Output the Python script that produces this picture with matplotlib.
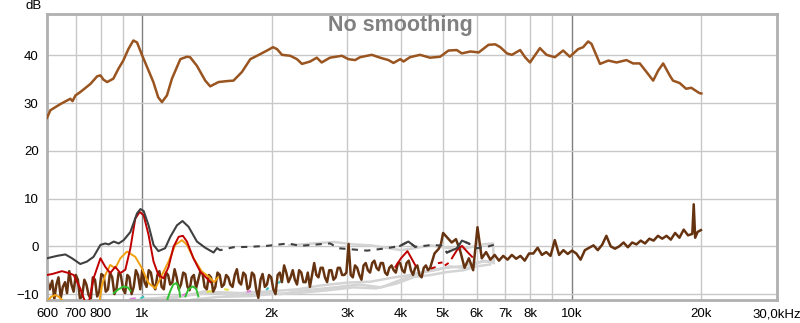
import numpy as np
import matplotlib
matplotlib.use('Agg')
import matplotlib.pyplot as plt

plt.rcParams['font.family'] = ['Liberation Sans', 'DejaVu Sans']

nan = np.nan

# fundamental (brown-orange)
fund_f = [600, 611, 645, 667, 680, 688, 699, 717, 757, 785, 799, 812, 828, 856, 880, 903, 928, 953, 972, 1000,
          1034, 1061, 1089, 1111, 1141, 1172, 1226, 1270, 1292, 1340, 1401, 1439, 1504, 1574, 1630, 1705, 1784,
          1849, 1951, 2014, 2058, 2114, 2209, 2290, 2353, 2458, 2547, 2614, 2733, 2913, 3017, 3127, 3212, 3420,
          3577, 3740, 3842, 3984, 4054, 4196, 4428, 4673, 4932, 5160, 5394, 5540, 5800, 6066, 6393, 6630, 6810,
          7058, 7246, 7574, 7776, 7985, 8420, 8724, 9122, 9537, 9883, 10336, 10616, 10901, 11100, 11620, 12150,
          12700, 13390, 13870, 14380, 14910, 15450, 15870, 16300, 16880, 17180, 17800, 18430, 18950, 19780, 20000]
fund_db = [26.9, 28.5, 29.8, 30.5, 30.9, 30.4, 31.6, 32.3, 34.0, 35.6, 35.8, 34.9, 34.4, 35.1, 37.2, 38.9, 41.3,
           43.1, 42.7, 39.9, 36.8, 34.4, 31.2, 30.2, 31.6, 35.1, 39.2, 39.7, 39.6, 37.8, 34.7, 33.5, 34.4, 34.6,
           34.7, 36.5, 39.2, 39.9, 41.0, 41.7, 41.3, 40.1, 39.9, 39.2, 38.2, 38.7, 39.5, 38.5, 39.5, 39.9, 39.2,
           39.0, 39.6, 40.1, 39.5, 39.0, 38.4, 39.2, 38.7, 39.6, 40.1, 39.5, 39.7, 41.0, 41.1, 40.4, 40.8, 40.6,
           42.2, 42.3, 41.7, 40.4, 40.1, 41.1, 39.6, 38.5, 41.5, 40.1, 39.6, 41.0, 39.7, 41.3, 41.7, 42.9, 42.4,
           38.2, 38.9, 38.5, 39.0, 38.3, 38.3, 36.5, 34.7, 36.8, 38.3, 35.8, 34.7, 34.2, 33.0, 33.2, 32.1, 32.0]

# THD (dark gray), solid part then broken part
thd_f = [600, 633, 662, 686, 717, 743, 770, 799, 820, 835, 858, 881, 905, 938, 972, 990, 1007, 1034, 1062, 1090,
         1130, 1162, 1204, 1240, 1281, 1340, 1401, 1465, 1491]
thd_db = [-2.5, -2.0, -1.7, -2.5, -3.7, -3.2, -2.2, 0.3, 0.6, 0.4, 1.0, 0.6, 1.3, 3.0, 6.9, 7.8, 7.4, 4.4, 0.3,
          -1.0, -0.4, 2.0, 4.4, 5.3, 4.1, 1.0, -0.3, -1.3, -0.4]
thd2_f = [1491, 1518, 1628, 1783, 1950, 2187, 2330, 2637, 2737, 2861, 3333, 3706, 3981, 4160, 4316, 4760, 4982,
          5116, 5399, 5546, 5747, 6010, 6343, 6574]
thd2_db = [-0.4, -0.8, -0.2, -0.1, 0.1, 0.6, 0.1, 0.5, 0.6, -0.4, -0.9, -0.4, 0.1, 1.0, -0.1, 0.3, 0.1, -1.3,
           -0.4, 1.2, 0.6, -0.4, -0.1, 0.3]

# H2 (red)
h2_f = [600, 617, 650, 674, 692, 717, 735, 752, 770, 799, 820, 842, 865, 889, 913, 938, 963, 986, 1007, 1034,
        1062, 1090, 1120, 1151, 1182, 1215, 1243, 1270, 1315, 1364, 1400, 1440, nan,
        3880, 4000, 4140, 4230, 4320, nan, 4720, 4790, nan, 4900, 4970, nan, 5080, 5140, nan,
        5254, 5398, 5546, 5698, 5855]
h2_db = [-6.0, -5.8, -5.2, -5.6, -6.0, -8.8, -11.5, -11.5, -6.7, -2.5, -4.3, -5.6, -4.3, -5.6, -4.9, -0.4, 5.8,
         7.2, 6.5, 2.4, -3.2, -6.0, -6.7, -4.3, -0.1, 2.0, 2.2, 1.0, -2.5, -5.3, -6.3, -7.5, nan,
         -4.3, -2.5, -1.0, -2.5, -4.0, nan, -4.6, -4.4, nan, -3.5, -3.4, nan, -3.9, -3.6, nan,
         -2.5, -0.8, 0.1, -1.1, -2.2]

# H3 (orange)
h3_f = [600, 615, 628, 640, 655, nan, 795, 806, 820, 842, 865, 889, 921, 963, 998, 1034, 1072, 1111, 1151, 1193,
        1237, 1270, 1316, 1376, 1426, 1470, 1500]
h3_db = [-11.5, -10.5, -10.2, -10.6, -11.5, nan, -11.5, -8.0, -6.0, -3.9, -4.6, -2.5, -1.1, -2.2, -4.6, -7.7,
         -8.8, -6.0, -3.2, 0.3, 1.3, 0.3, -2.5, -5.3, -6.3, -7.5, -6.5]

# H4 (green)
h4_f = [858, 880, 905, 925, 938, nan, 1140, 1160, 1180, 1200, 1215, 1225, nan, 1260, 1280, 1310, 1335, 1350]
h4_db = [-9.8, -9.0, -8.4, -8.6, -9.3, nan, -11.5, -9.5, -8.0, -7.7, -8.5, -10.5, nan, -10.5, -9.0, -8.4, -8.9, -10.5]

# higher harmonics (light gray)
lg1_f = [950, 1100, 1300, 1500, 1700, 2000, 2300, 2600, 3000, 3400, 3800, 4200, 4600, 5000, 5500, 6000, 6500]
lg1_db = [-11.3, -10.8, -10.2, -9.6, -9.8, -9.4, -9.0, -8.2, -7.6, -7.4, -6.6, -6.0, -5.2, -4.6, -4.2, -3.4, -3.0]
lg2_f = [1000, 1200, 1400, 1600, 1800, 2100, 2400, 2800, 3200, 3600, 4000, 4400, 4800, 5200, 5700, 6200, 6550]
lg2_db = [-11.0, -10.8, -9.4, -10.2, -9.6, -10.0, -9.2, -8.6, -8.0, -8.6, -7.0, -5.6, -5.0, -4.2, -4.6, -3.0, -3.4]
lg3_f = [1300, 1500, 1800, 2000, 2300, 2700, 3100, 3500, 3900, 4300, 4700, 5100, 5600, 6000, 6450]
lg3_db = [-11.2, -10.6, -10.4, -10.0, -9.8, -9.2, -8.6, -8.8, -7.8, -6.4, -6.0, -5.4, -5.0, -4.2, -3.8]
lgu_f = [2200, 2500, 2800, 3100, 3400, 3700, 4000, 4300, 4700, 5000, 5400, 5800, 6200, 6550, 6580]
lgu_db = [0.2, 0.6, 0.9, 0.4, 0.2, -0.3, -0.8, -0.4, 0.2, -0.2, -0.6, -0.2, 0.4, 0.6, -3.5]

# small specks of other harmonics
pink_f = [940, 960, nan, 1245, 1260, nan, 1760, 1780]
pink_db = [-11.0, -10.9, nan, -10.2, -10.0, nan, -9.5, -9.4]
cyan_f = [995, 1005, nan, 1950, 1960, nan, 2080, 2100]
cyan_db = [-10.8, -10.6, nan, -9.0, -8.8, nan, -7.6, -7.3]
yellow_f = [1420, 1450, nan, 1560, 1580]
yellow_db = [-9.5, -9.4, nan, -9.0, -9.1]

# noise (dark brown)
noise_f = [600, 609, 617, 624, 631, 638, 646, 653, 661, 668, 676, 684, 692, 700, 708, 716, 724, 733, 741, 750,
           759, 767, 776, 785, 794, 803, 813, 822, 832, 841, 851, 861, 871, 881, 891, 902, 912, 923, 933, 944,
           955, 966, 977, 989, 1000,
           1012, 1023, 1035, 1047, 1059, 1072, 1084, 1096, 1109, 1122, 1135, 1148, 1161, 1175, 1189, 1202, 1216,
           1230, 1245, 1259, 1274, 1288, 1303, 1318, 1334, 1349, 1365, 1380, 1396, 1413, 1429, 1445, 1462, 1479,
           1496, 1514, 1531, 1549, 1567, 1585,
           1603, 1622, 1641, 1660, 1679, 1698, 1718, 1738, 1758, 1778, 1799, 1820, 1841, 1862, 1884, 1905, 1928,
           1950, 1972, 1995,
           2018, 2042, 2065, 2089, 2113, 2138, 2163, 2188, 2213, 2239, 2265, 2291, 2317, 2344, 2371, 2399, 2427,
           2455, 2483, 2512,
           2541, 2570, 2600, 2630, 2661, 2692, 2723, 2754, 2786, 2818, 2851, 2884, 2917, 2951, 2985, 3020, 3055,
           3090, 3126, 3162,
           3199, 3236, 3273, 3311, 3350, 3388, 3428, 3467, 3508, 3548, 3589, 3631, 3673, 3715, 3758, 3802, 3846,
           3890, 3936, 3981,
           4027, 4074, 4121, 4169, 4217, 4266, 4315, 4365, 4416, 4467, 4519, 4571, 4624, 4677, 4732, 4786, 4842,
           4898, 4955, 5012,
           5129, 5248, 5370, 5495, 5623, 5754, 5888, 6026, 6166, 6310,
           6457, 6607, 6761, 6918, 7079, 7244, 7413, 7586, 7762, 7943,
           8128, 8318, 8511, 8710, 8913, 9120, 9333, 9550, 9772, 10000,
           10233, 10471, 10715, 10965, 11220, 11482, 11749, 12023, 12303, 12589,
           12882, 13183, 13490, 13804, 14125, 14454, 14791, 15136, 15488, 15849,
           16218, 16596, 16982, 17378, 17783, 18197, 18621, 19055, 19200, 19350, 19600, 19953]
noise_db = [-6.8, -9.0, -7.2, -11.0, -8.0, -6.5, -10.8, -8.5, -7.5, -9.8, -5.2, -8.0, -9.5, -6.0, -7.0, -11.0,
            -10.5, -7.0, -8.0, -10.2, -11.0, -6.5, -7.0, -10.5, -9.5, -5.8, -6.2, -9.5, -9.0, -5.5, -6.5, -10.0,
            -8.8, -5.5, -6.0, -9.0, -9.8, -6.0, -6.5, -10.0, -8.5, -5.0, -6.0, -9.0, -4.8,
            -7.5, -8.5, -5.0, -5.5, -8.0, -9.0, -6.0, -5.2, -8.5, -9.0, -5.5, -6.0, -8.0, -7.5, -4.8, -6.5, -9.0,
            -8.0, -5.5, -5.8, -8.5, -9.2, -6.5, -6.0, -8.8, -7.0, -5.2, -5.5, -8.5, -9.0, -6.0, -6.5, -9.5, -8.5,
            -5.5, -6.0, -8.5, -8.0, -6.0, -6.5,
            -8.0, -8.5, -6.0, -4.8, -7.5, -8.0, -5.5, -6.0, -9.0, -8.5, -5.5, -6.0, -9.0, -10.8, -7.0, -5.8, -8.5,
            -8.0, -6.0, -6.5,
            -9.0, -10.0, -6.0, -5.5, -7.5, -4.0, -5.5, -7.5, -6.5, -5.0, -7.0, -8.0, -5.0, -5.5, -7.5, -7.5, -5.5,
            -8.5, -6.0, -3.5,
            -6.0, -6.5, -4.5, -4.5, -6.5, -7.5, -5.0, -5.0, -7.0, -6.5, -4.5, -4.5, -6.0, -6.0, -5.5, 0.5, -6.0,
            -6.5, -4.0, -4.5,
            -6.0, -7.0, -4.0, -3.5, -5.0, -5.5, -3.5, -3.0, -4.5, -5.0, -3.5, -3.5, -5.5, -6.0, -4.5, -4.0, -5.0,
            -5.5, -3.5, -3.5,
            -5.0, -5.5, -3.5, -3.0, -5.0, -6.0, -4.5, -4.0, -6.0, -6.5, -4.5, -4.0, -5.0, -4.5, -3.0, -1.5, -1.0,
            -0.5, 0.5, 2.8,
            1.8, 0.8, 1.5, -1.0, -4.5, -2.5, -5.0, 4.0, -2.5, -1.2,
            -2.8, -1.8, -3.0, -2.0, -2.8, -1.8, -2.6, -2.0, -3.0, -1.5,
            -1.5, -0.3, -1.8, -1.2, -2.0, 1.3, -1.8, -0.8, -1.6, -0.9,
            -1.5, -2.8, -0.8, -0.3, 0.2, -0.8, 0.3, 2.2, 0.0, -0.5,
            0.0, 0.8, -0.2, 0.8, 0.4, 1.2, 0.6, 1.6, 1.2, 2.2,
            1.6, 2.2, 1.4, 2.8, 1.8, 3.5, 2.3, 2.6, 8.8, 1.8, 3.0, 3.4]

tick_freqs = [600, 700, 800, 1000, 2000, 3000, 4000, 5000, 6000, 7000, 8000, 10000, 20000, 30000]
tick_labels = ['600', '700', '800', '1k', '2k', '3k', '4k', '5k', '6k', '7k', '8k', '10k', '20k', '30,0kHz']
grid_light = [700, 800, 900, 2000, 3000, 4000, 5000, 6000, 7000, 8000, 9000, 20000]
grid_dark = [1000, 10000]
db_ticks = [-10, 0, 10, 20, 30, 40]

fig = plt.figure(figsize=(8, 3.23), dpi=100)
ax = fig.add_axes([47 / 800, 23 / 323, 730 / 800, 286 / 323])
ax.set_xscale('log')
ax.set_xlim(600, 30000)
ax.set_ylim(-11.24, 48.65)

for f in grid_light:
    ax.axvline(f, color='#c8c8c8', lw=1, zorder=0)
for f in grid_dark:
    ax.axvline(f, color='#808080', lw=1, zorder=0)
for d in db_ticks:
    ax.axhline(d, color='#c8c8c8', lw=1, zorder=0)

ax.set_xticks(tick_freqs, labels=tick_labels)
ax.minorticks_off()
ax.set_yticks(db_ticks)
ax.tick_params(length=0, pad=6, labelsize=9.5)
for s in ax.spines.values():
    s.set_color('#b0b0b0')
    s.set_linewidth(2)

for fx, dx in [(lg1_f, lg1_db), (lg2_f, lg2_db), (lg3_f, lg3_db), (lgu_f, lgu_db)]:
    ax.plot(fx, dx, color='#d4d4d4', lw=1.8, zorder=1)
ax.plot(pink_f, pink_db, color='#e080e0', lw=1.5, zorder=1)
ax.plot(cyan_f, cyan_db, color='#40c0c0', lw=1.5, zorder=1)
ax.plot(yellow_f, yellow_db, color='#e8e040', lw=1.5, zorder=1)

ax.plot(noise_f, noise_db, color='#663311', lw=1.8, zorder=2)
ax.plot(h4_f, h4_db, color='#30c030', lw=1.4, zorder=3)
ax.plot(h3_f, h3_db, color='#f0a010', lw=1.4, zorder=3)
ax.plot(h2_f, h2_db, color='#c00000', lw=1.4, zorder=4)
ax.plot(thd_f, thd_db, color='#404040', lw=1.5, zorder=5)
ax.plot(thd2_f, thd2_db, color='#404040', lw=1.5, ls=(0, (3, 3)), zorder=5)
thd2_fa = np.array(thd2_f, dtype=float)
thd2_solid = np.where(((thd2_fa >= 3900) & (thd2_fa <= 4400)) | ((thd2_fa >= 5100) & (thd2_fa <= 5800)),
                      thd2_db, nan)
ax.plot(thd2_f, thd2_solid, color='#404040', lw=1.5, zorder=5)
ax.plot(fund_f, fund_db, color='#99541f', lw=1.8, zorder=6)

fig.text(400 / 800, 1 - 25 / 323, 'No smoothing', ha='center', va='center', fontsize=15.5,
         fontweight='bold', color='#808080')
fig.text(42 / 800, 1 - 6 / 323, 'dB', ha='right', va='center', fontsize=9.5)

fig.savefig('out.png', dpi=100, facecolor='white')
